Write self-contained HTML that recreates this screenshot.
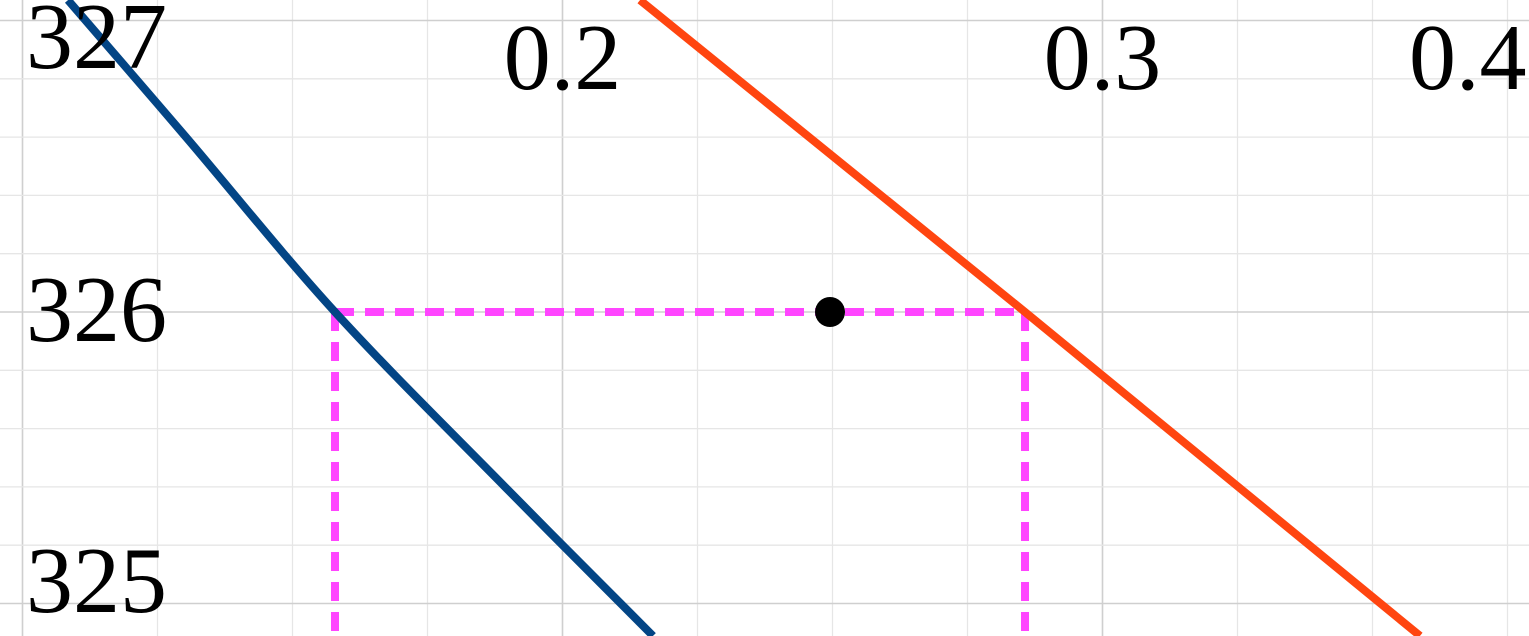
<!DOCTYPE html>
<html><head><meta charset="utf-8"><style>
html,body{margin:0;padding:0;background:#fff;overflow:hidden}
svg{display:block}
text{font-family:"Liberation Serif",serif;font-size:94px;fill:#000}
</style></head><body>
<svg id="chart" width="1529" height="636" viewBox="0 0 1529 636" xmlns="http://www.w3.org/2000/svg">
<g id="grid"></g>
<g id="series"></g>
<g id="labels"></g>
</svg>
<script>
const blueX = [0.10843, 0.13028, 0.15787, 0.18935, 0.21676];
const blueY = [327.070, 326.600, 326.000, 325.400, 324.889];
const orangeX = [0.21435, 0.28565, 0.35880];
const orangeY = [327.070, 326.000, 324.889];
const pointX = [0.24954];
const pointY = [326.0];
const leftX = 0.15787, rightX = 0.28565, levelY = 326.0;
const xTickVals = [0.2, 0.3];
const xTickLabels = ["0.2", "0.3"];
const yTickLabels = ["327", "326", "325"];

const NS = "http://www.w3.org/2000/svg";
function sx(v){ return 22.5 + (v - 0.1) * 5400; }
function sy(v){ return 312 - (v - 326) * 291.5; }
function mk(tag, attrs, parent){
  const e = document.createElementNS(NS, tag);
  for (const k in attrs) e.setAttribute(k, attrs[k]);
  parent.appendChild(e); return e;
}
const grid = document.getElementById('grid');
for (let i = -4; i <= 60; i++) {
  const v = 0.1 + i * 0.025;
  const x = sx(v);
  if (x < -2 || x > 1531) continue;
  const major = i % 4 === 0;
  const l = mk('line', {x1:x, x2:x, y1:0, y2:636, stroke: major ? '#cfcfcf' : '#e6e6e6', 'stroke-width': major ? 1.6 : 1.3}, grid);
  
  
}
for (let i = -10; i <= 20; i++) {
  const v = 325 + i * 0.2;
  const y = sy(v);
  if (y < -2 || y > 638) continue;
  const major = ((i % 5) + 5) % 5 === 0;
  const l = mk('line', {x1:0, x2:1529, y1:y, y2:y, stroke: major ? '#cfcfcf' : '#e6e6e6', 'stroke-width': major ? 1.6 : 1.3}, grid);
  
  
}
const ser = document.getElementById('series');
function pathFrom(xs, ys){
  return xs.map((x,i)=> (i?'L':'M') + sx(x).toFixed(1) + ' ' + sy(ys[i]).toFixed(1)).join(' ');
}
function smoothFrom(xs, ys){
  const p = xs.map((x,i)=>[sx(x), sy(ys[i])]);
  let d = `M${p[0][0].toFixed(1)} ${p[0][1].toFixed(1)}`;
  for (let i = 0; i < p.length - 1; i++) {
    const p0 = p[Math.max(0,i-1)], p1 = p[i], p2 = p[i+1], p3 = p[Math.min(p.length-1,i+2)];
    const c1 = [p1[0] + (p2[0]-p0[0])/6, p1[1] + (p2[1]-p0[1])/6];
    const c2 = [p2[0] - (p3[0]-p1[0])/6, p2[1] - (p3[1]-p1[1])/6];
    d += ` C${c1[0].toFixed(1)} ${c1[1].toFixed(1)} ${c2[0].toFixed(1)} ${c2[1].toFixed(1)} ${p2[0].toFixed(1)} ${p2[1].toFixed(1)}`;
  }
  return d;
}
const dash = {stroke:'#ff45ff', 'stroke-width':8, 'stroke-dasharray':'19 11', fill:'none'};
const dh = mk('path', Object.assign({d:`M${sx(leftX)} ${sy(levelY)} L${sx(rightX)} ${sy(levelY)}`}, dash), ser);


const dl = mk('path', Object.assign({d:`M${sx(leftX)} ${sy(levelY)} L${sx(leftX)} 640`}, dash), ser);


const dr = mk('path', Object.assign({d:`M${sx(rightX)} ${sy(levelY)} L${sx(rightX)} 640`}, dash), ser);


const bp = mk('path', {d:smoothFrom(blueX, blueY), stroke:'#034585', 'stroke-width':8, fill:'none', 'stroke-linejoin':'round'}, ser);


const op = mk('path', {d:pathFrom(orangeX, orangeY), stroke:'#ff4510', 'stroke-width':8, fill:'none'}, ser);


pointX.forEach((x,i)=>{
  const c = mk('circle', {cx:sx(x), cy:sy(pointY[i]), r:15, fill:'#000'}, ser);
  
  
});
const lab = document.getElementById('labels');
xTickVals.forEach((v,i)=>{
  const t = mk('text', {x:sx(v), y:89, 'text-anchor':'middle'}, lab);
  t.textContent = xTickLabels[i];
  
  
});
const t4 = mk('text', {x:1409, y:89}, lab);
t4.textContent = "0.4";


const yLabelBase = [68, 341, 612];
yTickLabels.forEach((s,i)=>{
  const t = mk('text', {x:26, y:yLabelBase[i]}, lab);
  t.textContent = s;
  
  
});
</script>
</body></html>
